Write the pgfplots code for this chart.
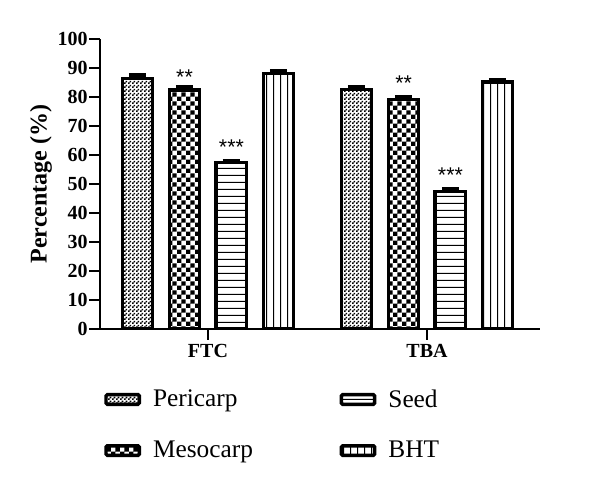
\documentclass[border=0pt]{standalone}
\usepackage{pgfplots}
\pgfplotsset{compat=1.18}
\usepackage{fontspec}
\setmainfont{Liberation Serif}
\newfontfamily\starfont{Liberation Sans}
\usetikzlibrary{patterns}

\pgfdeclarepatternformonly{finecheck}{\pgfqpoint{0pt}{0pt}}{\pgfqpoint{3pt}{3pt}}{\pgfqpoint{3pt}{3pt}}{%
  \pgfpathrectangle{\pgfqpoint{0pt}{0pt}}{\pgfqpoint{1.5pt}{1.5pt}}%
  \pgfpathrectangle{\pgfqpoint{1.5pt}{1.5pt}}{\pgfqpoint{1.5pt}{1.5pt}}%
  \pgfusepath{fill}}
\pgfdeclarepatternformonly{coarsecheck}{\pgfqpoint{0pt}{0pt}}{\pgfqpoint{7pt}{7pt}}{\pgfqpoint{7pt}{7pt}}{%
  \pgfpathrectangle{\pgfqpoint{0pt}{0pt}}{\pgfqpoint{3.5pt}{3.5pt}}%
  \pgfpathrectangle{\pgfqpoint{3.5pt}{3.5pt}}{\pgfqpoint{3.5pt}{3.5pt}}%
  \pgfusepath{fill}}
\pgfdeclarepatternformonly{hlinesp}{\pgfqpoint{0pt}{0pt}}{\pgfqpoint{1pt}{5.25pt}}{\pgfqpoint{1pt}{5.25pt}}{%
  \pgfpathrectangle{\pgfqpoint{0pt}{0pt}}{\pgfqpoint{1pt}{0.9pt}}%
  \pgfusepath{fill}}
\pgfdeclarepatternformonly{vlinesp}{\pgfqpoint{0pt}{0pt}}{\pgfqpoint{5.25pt}{1pt}}{\pgfqpoint{5.25pt}{1pt}}{%
  \pgfpathrectangle{\pgfqpoint{0pt}{0pt}}{\pgfqpoint{0.9pt}{1pt}}%
  \pgfusepath{fill}}

\pgfplotstableread{
x  y     e
0  86.5  1.0
1  82.7  0.9
}\pericarp
\pgfplotstableread{
x  y     e
0  82.4  0.9
1  79.2  0.9
}\mesocarp
\pgfplotstableread{
x  y     e
0  57.4  0.7
1  47.4  0.9
}\seed
\pgfplotstableread{
x  y     e
0  88.2  0.8
1  85.2  0.7
}\bht

\pgfplotsset{
  mybar/.style={draw=black, line width=2.4pt, pattern color=black,
    error bars/y dir=plus, error bars/y explicit,
    error bars/error bar style={line width=2.4pt, black},
    error bars/error mark options={rotate=90, line width=3pt, mark size=6.5pt, black}},
  myleg/.style={legend image code/.code={%
    \draw[draw=black, line width=2.6pt, rounded corners=1pt, ##1] (0pt,-3.6pt) rectangle (25pt,3.6pt);}},
}

\begin{document}
\begin{tikzpicture}
\useasboundingbox (-75pt,-116.25pt) rectangle (375pt,246.75pt);
\begin{axis}[
  at={(0,0)}, anchor=south west,
  scale only axis, width=330pt, height=217.5pt,
  xmin=-0.493, xmax=1.516, ymin=0, ymax=100,
  axis x line*=bottom, axis y line*=left,
  axis line style={line width=1.6pt, black},
  ybar, bar width=0.14,
  xtick={0,1}, xticklabels={FTC,TBA},
  ytick={0,10,...,100},
  tick align=outside, major tick length=8pt,
  tick style={line width=1.6pt, black},
  /pgf/number format/assume math mode=true,
  ticklabel style={font=\bfseries\fontsize{15}{17}\selectfont},
  yticklabel style={inner sep=1pt},
  ylabel={Percentage (\%)},
  every axis y label/.style={at={(axis description cs:-0.134,0.5)}, rotate=90, anchor=center,
    font=\bfseries\fontsize{18}{20}\selectfont},
  legend columns=2, transpose legend,
  legend cell align=left,
  legend style={draw=none, fill=none, at={(axis description cs:0.0,-0.19)}, anchor=north west,
    font=\fontsize{19}{22}\selectfont, row sep=20pt,
    /tikz/every odd column/.append style={column sep=7pt},
    /tikz/every even column/.append style={column sep=63pt}},
]
\addplot+[mybar, myleg, pattern=finecheck, bar shift=-0.322] table[x=x, y=y, y error=e] {\pericarp};
\addlegendentry{Pericarp}
\addplot+[mybar, myleg, pattern=coarsecheck, bar shift=-0.107] table[x=x, y=y, y error=e] {\mesocarp};
\addlegendentry{Mesocarp}
\addplot+[mybar, myleg, pattern=hlinesp, bar shift=0.107] table[x=x, y=y, y error=e] {\seed};
\addlegendentry{Seed}
\addplot+[mybar, myleg, pattern=vlinesp, bar shift=0.322] table[x=x, y=y, y error=e] {\bht};
\addlegendentry{BHT}
\node[font=\starfont\fontsize{16}{16}\selectfont] at (axis cs:-0.107,87.0) {**};
\node[font=\starfont\fontsize{16}{16}\selectfont] at (axis cs:0.107,62.8) {***};
\node[font=\starfont\fontsize{16}{16}\selectfont] at (axis cs:0.893,84.6) {**};
\node[font=\starfont\fontsize{16}{16}\selectfont] at (axis cs:1.107,53.2) {***};
\end{axis}
\end{tikzpicture}
\end{document}
